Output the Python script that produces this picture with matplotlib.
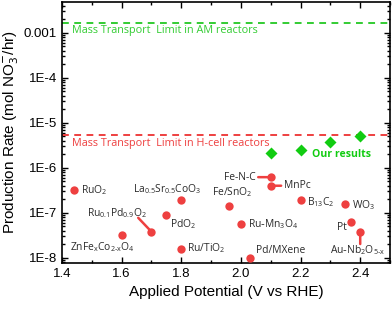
import numpy as np
import matplotlib
matplotlib.use('Agg')
import matplotlib.pyplot as plt
from matplotlib.ticker import FixedLocator, FuncFormatter, LogLocator, MultipleLocator

plt.rcParams['font.family'] = ['Liberation Sans', 'DejaVu Sans']

# literature catalysts (red circles)
lit_names = [r'$\mathregular{RuO_2}$', r'$\mathregular{La_{0.5}Sr_{0.5}CoO_3}$', r'$\mathregular{PdO_2}$',
             r'$\mathregular{Ru_{0.1}Pd_{0.9}O_2}$', r'$\mathregular{ZnFe_xCo_{2\text{-}x}O_4}$',
             r'$\mathregular{Ru/TiO_2}$', r'$\mathregular{Fe/SnO_2}$', r'$\mathregular{Ru\text{-}Mn_3O_4}$',
             'Pd/MXene', 'Fe-N-C', 'MnPc', r'$\mathregular{B_{13}C_2}$', r'$\mathregular{WO_3}$', 'Pt',
             r'$\mathregular{Au\text{-}Nb_2O_{5\text{-}x}}$']
lit_V = [1.44, 1.80, 1.75, 1.70, 1.60, 1.80, 1.96, 2.00, 2.03, 2.10, 2.10, 2.20, 2.35, 2.37, 2.40]
lit_rate = [3.2e-7, 1.9e-7, 8.9e-8, 3.8e-8, 3.2e-8, 1.6e-8, 1.4e-7, 5.7e-8, 1.0e-8, 6.2e-7, 4.0e-7,
            1.9e-7, 1.6e-7, 6.1e-8, 3.7e-8]

# our results (green diamonds)
our_V = [2.1, 2.2, 2.3, 2.4]
our_rate = [2.15e-6, 2.5e-6, 3.8e-6, 5.1e-6]

am_limit = 1.7e-3
hcell_limit = 5.3e-6

RED = '#EE4040'
GREEN = '#11CC11'
LGREEN = '#33CC33'

# label offsets in points (dx, dy, ha), leader line offsets
label_pos = [(5, 0, 'left'), (-10, 8, 'center'), (3, -6.5, 'left'), (-24.5, 13.5, 'center'),
             (-14, -8.5, 'center'), (4.5, 0, 'left'), (2, 10, 'center'), (5, 0, 'left'),
             (4.5, 5, 'left'), (-11, 0, 'right'), (9.5, 0.5, 'left'), (4.5, -1.5, 'left'),
             (5, -1, 'left'), (-3, -3.5, 'right'), (-1.5, -13, 'center')]
leaders = {3: (-9.5, 10), 9: (-9, 0), 10: (7.5, 0), 14: (0, -8.5)}

fig = plt.figure(figsize=(3.92, 3.10), dpi=100)
ax = fig.add_axes([0.158, 0.152, 0.837, 0.842])

ax.axhline(am_limit, color=LGREEN, lw=1.4, ls=(0, (3.5, 2.8)))
ax.axhline(hcell_limit, color=RED, lw=1.4, ls=(0, (3.5, 2.8)))
ax.text(1.435, 1.12e-3, 'Mass Transport  Limit in AM reactors', color=LGREEN, fontsize=7.8,
        family='Open Sans', va='center')
ax.text(1.435, 3.4e-6, 'Mass Transport  Limit in H-cell reactors', color=RED, fontsize=7.8,
        family='Open Sans', va='center')

for i, (x, y) in enumerate(zip(lit_V, lit_rate)):
    if i in leaders:
        dx, dy = leaders[i]
        ax.annotate('', xy=(x, y), xytext=(dx, dy), textcoords='offset points',
                    arrowprops=dict(arrowstyle='-', color=RED, lw=1.8, shrinkA=0, shrinkB=0))
ax.plot(lit_V, lit_rate, 'o', color=RED, ms=6, mec='none', zorder=3)
for name, x, y, (dx, dy, ha) in zip(lit_names, lit_V, lit_rate, label_pos):
    ax.annotate(name, (x, y), xytext=(dx, dy), textcoords='offset points', ha=ha, va='center',
                fontsize=7.4, family='Open Sans', color='#2a2a2a')

ax.plot(our_V, our_rate, 'D', color=GREEN, ms=6, mec='none', zorder=3)
ax.text(2.24, 1.95e-6, 'Our results', color=GREEN, fontsize=7.6, family='Open Sans',
        fontweight='bold', va='center')

ax.set_yscale('log')
ax.set_xlim(1.4, 2.5)
ax.set_ylim(7.7e-9, 4.9e-3)
ax.xaxis.set_major_locator(MultipleLocator(0.2))
ax.xaxis.set_minor_locator(MultipleLocator(0.1))
ax.yaxis.set_major_locator(FixedLocator([1e-8, 1e-7, 1e-6, 1e-5, 1e-4, 1e-3]))
ax.yaxis.set_minor_locator(LogLocator(base=10, subs=np.arange(2, 10)))
ax.yaxis.set_major_formatter(FuncFormatter(lambda v, p: '0.001' if v >= 1e-3 else '1E%d' % round(np.log10(v))))
ax.tick_params(which='both', direction='in', top=True, right=True, labelsize=9.5, width=1)
ax.tick_params(which='major', length=4.5)
ax.tick_params(which='minor', length=2.5)
for s in ax.spines.values():
    s.set_linewidth(1.2)

ax.set_xlabel('Applied Potential (V vs RHE)', fontsize=11, labelpad=4)
ax.set_ylabel(r'Production Rate (mol NO$_3^{-}$/hr)', fontsize=11, labelpad=2)

fig.savefig('out.png', dpi=100)
